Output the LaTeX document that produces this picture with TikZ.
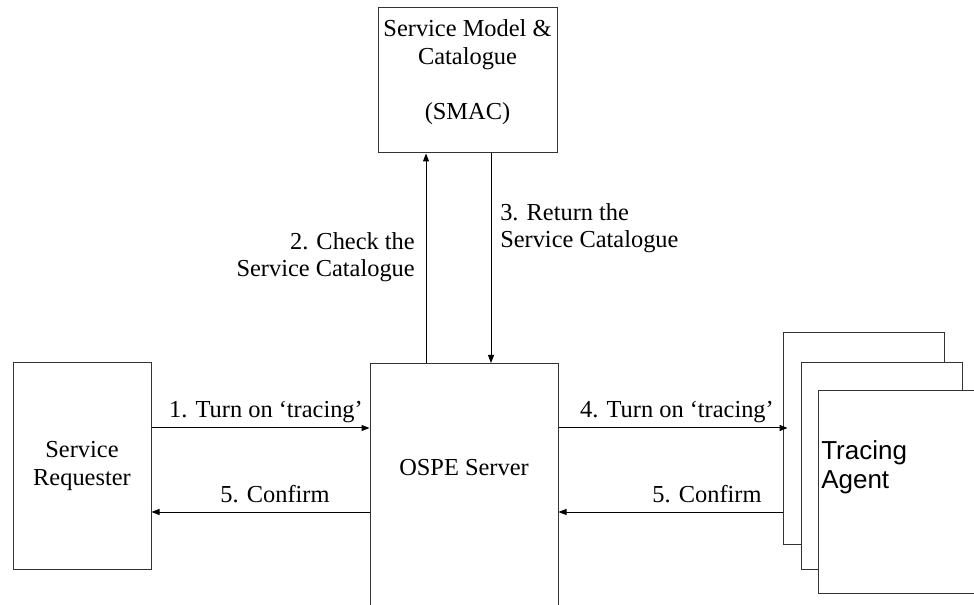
\documentclass[tikz,border=0pt]{standalone}
\usepackage{fontspec}
\setmainfont{Liberation Serif}
\newfontfamily\arialfont{Liberation Sans}
\usetikzlibrary{positioning,arrows.meta}

\begin{document}
\begin{tikzpicture}[x=0.75pt, y=-0.75pt, font=\fontsize{18.3}{20.6}\selectfont,
    box/.style={draw=black!80, line width=0.75pt, fill=white, inner sep=0pt},
    arr/.style={-{Triangle[length=6pt,width=4.5pt]}, line width=0.75pt},
    lbl/.style={inner sep=0pt}]
            \useasboundingbox (0,0) rectangle (974,605);

            % Service Model & Catalogue
            \node[box, minimum width=134.25pt, minimum height=108.75pt] (smac) at (467.5,80.5) {};
            \node[lbl, align=center, anchor=north] (smactxt) at (467.5,19.5)
                {Service Model \&\\Catalogue\\[20.6pt](SMAC)};

            % Requester and server
            \node[box, align=center, minimum width=103.5pt, minimum height=154.5pt] (sr) at (82,466)
                {Service\\Requester};
            \node[box, anchor=north, minimum width=141pt, minimum height=195pt] (ospe) at (464,363) {};
            \node[lbl] (ospetxt) at (464,468) {OSPE Server};

            % Tracing agents (stacked)
            \node[box, minimum width=120.75pt, minimum height=158.25pt] (ag1) at (863.5,438.5) {};
            \node[box, minimum width=120.75pt, minimum height=154.5pt] (ag2) at (881.5,466) {};
            \node[box, anchor=north west, minimum width=135pt, minimum height=152.25pt] (ag3) at (818,390) {};
            \node[lbl, anchor=north west, align=left, font=\arialfont\fontsize{19.5}{21.75}\selectfont]
                (agtxt) at (821,440) {Tracing\\Agent};

            % Arrows
            \coordinate (tr) at (0,428);
            \coordinate (cf) at (0,512);
            \coordinate (up) at (426,0);
            \coordinate (dn) at (491,0);
            \draw[arr] (sr.east |- tr) -- (ospe.west |- tr);
            \draw[arr] (ospe.west |- cf) -- (sr.east |- cf);
            \draw[arr, shorten >=-3.75pt] (ospe.east |- tr) -- (ag1.west |- tr);
            \draw[arr] (ag1.west |- cf) -- (ospe.east |- cf);
            \draw[arr] (ospe.north -| up) -- (smac.south -| up);
            \draw[arr] (smac.south -| dn) -- (ospe.north -| dn);

            % Labels
            \node[lbl, anchor=base] (t1) at (266,418) {1. Turn on ‘tracing’};
            \node[lbl, anchor=base] (c1) at (275,502) {5. Confirm};
            \node[lbl, anchor=base] (t4) at (677,418) {4. Turn on ‘tracing’};
            \node[lbl, anchor=base] (c4) at (707,502) {5. Confirm};
            \node[lbl, align=right, anchor=east] (chk) at (415,257) {2. Check the\\Service Catalogue};
            \node[lbl, align=left, anchor=west] (ret) at (500,228) {3. Return the\\Service Catalogue};

        \end{tikzpicture}
\end{document}
